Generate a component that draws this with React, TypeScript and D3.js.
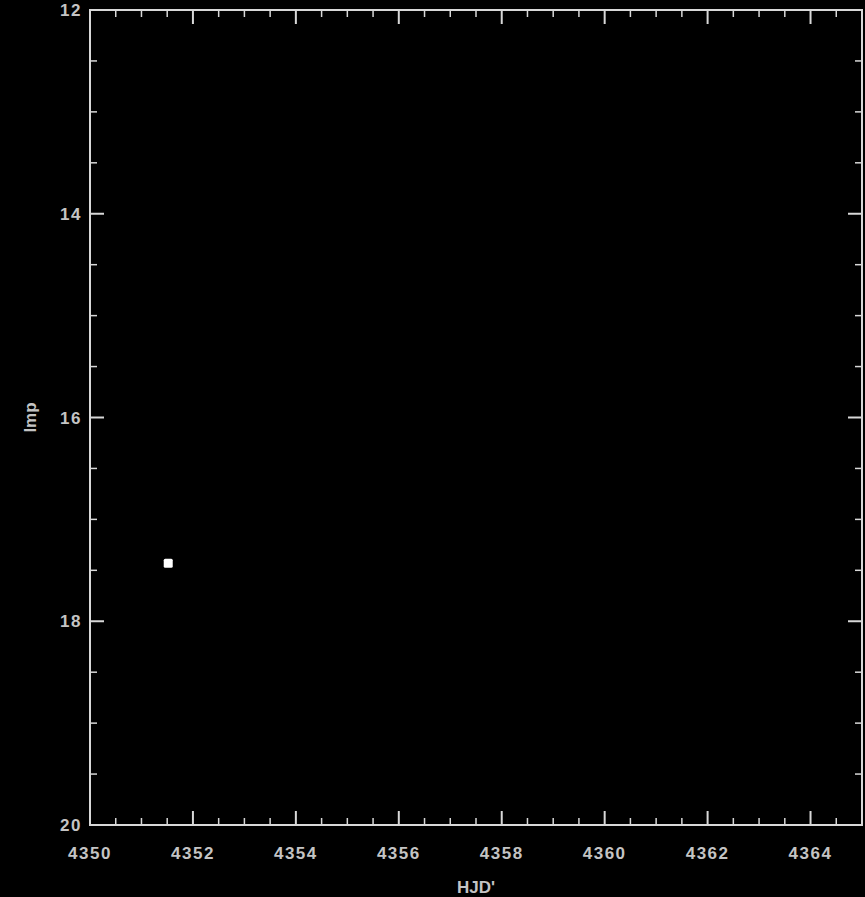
import * as d3 from 'd3';
import { useEffect } from 'react';

// observation (HJD' , magnitude)
const hjd = [4351.52];
const mag = [17.43];

const xTicks = [4350, 4352, 4354, 4356, 4358, 4360, 4362, 4364];
const yTicks = [12, 14, 16, 18, 20];

const W = 865;
const H = 897;
const margin = { top: 10, right: 3, bottom: 72, left: 90 };

export default function App() {
    useEffect(() => {
        document.body.style.margin = '0';
        document.body.style.background = '#000';
    }, []);

    const x = d3
        .scaleLinear()
        .domain([4350, 4365])
        .range([margin.left, W - margin.right]);
    const y = d3
        .scaleLinear()
        .domain([12, 20])
        .range([margin.top, H - margin.bottom]);

    const xMinor = d3.range(4350, 4365.01, 0.5).filter((v) => v % 2 !== 0);
    const yMinor = d3.range(12, 20.01, 0.5).filter((v) => v % 2 !== 0);

    const [x0, x1] = x.range();
    const [y0, y1] = y.range();
    const axisColor = '#d8d8d8';
    const textColor = '#c4c4c4';
    const font = '"Liberation Sans", Arial, sans-serif';

    return (
        <svg width={W} height={H} style={{ display: 'block', background: '#000' }}>
            <rect x={0} y={0} width={W} height={H} fill="#000" />
            {/* frame */}
            <rect
                x={x0}
                y={y0}
                width={x1 - x0}
                height={y1 - y0}
                fill="none"
                stroke={axisColor}
                strokeWidth={2}
            />
            {/* x ticks, bottom and top */}
            {xTicks.map((t) => (
                <g key={`xt${t}`} stroke={axisColor} strokeWidth={2}>
                    <line x1={x(t)} x2={x(t)} y1={y1} y2={y1 - 14} />
                    <line x1={x(t)} x2={x(t)} y1={y0} y2={y0 + 14} />
                </g>
            ))}
            {xMinor.map((t) => (
                <g key={`xm${t}`} stroke={axisColor} strokeWidth={1.5}>
                    <line x1={x(t)} x2={x(t)} y1={y1} y2={y1 - 7} />
                    <line x1={x(t)} x2={x(t)} y1={y0} y2={y0 + 7} />
                </g>
            ))}
            {/* y ticks, left and right */}
            {yTicks.map((t) => (
                <g key={`yt${t}`} stroke={axisColor} strokeWidth={2}>
                    <line x1={x0} x2={x0 + 14} y1={y(t)} y2={y(t)} />
                    <line x1={x1} x2={x1 - 14} y1={y(t)} y2={y(t)} />
                </g>
            ))}
            {yMinor.map((t) => (
                <g key={`ym${t}`} stroke={axisColor} strokeWidth={1.5}>
                    <line x1={x0} x2={x0 + 7} y1={y(t)} y2={y(t)} />
                    <line x1={x1} x2={x1 - 7} y1={y(t)} y2={y(t)} />
                </g>
            ))}
            {/* tick labels */}
            {xTicks.map((t) => (
                <text
                    key={`xl${t}`}
                    x={x(t)}
                    y={y1 + 34}
                    textAnchor="middle"
                    fill={textColor}
                    fontFamily={font}
                    fontSize={17}
                    fontWeight="bold"
                    letterSpacing={1.5}
                >
                    {t}
                </text>
            ))}
            {yTicks.map((t) => (
                <text
                    key={`yl${t}`}
                    x={x0 - 8}
                    y={y(t) + 6}
                    textAnchor="end"
                    fill={textColor}
                    fontFamily={font}
                    fontSize={17}
                    fontWeight="bold"
                    letterSpacing={1.5}
                >
                    {t}
                </text>
            ))}
            {/* axis titles */}
            <text
                x={(x0 + x1) / 2}
                y={H - 4}
                textAnchor="middle"
                fill={textColor}
                fontFamily={font}
                fontSize={17}
                fontWeight="bold"
            >
                HJD'
            </text>
            <text
                transform={`translate(36,${(y0 + y1) / 2}) rotate(-90)`}
                textAnchor="middle"
                fill={textColor}
                fontFamily={font}
                fontSize={17}
                fontWeight="bold"
            >
                Imp
            </text>
            {/* data */}
            {hjd.map((d, i) => (
                <rect
                    key={i}
                    x={x(d) - 4.5}
                    y={y(mag[i]) - 4.5}
                    width={9}
                    height={9}
                    rx={1.5}
                    fill="#fff"
                />
            ))}
        </svg>
    );
}
